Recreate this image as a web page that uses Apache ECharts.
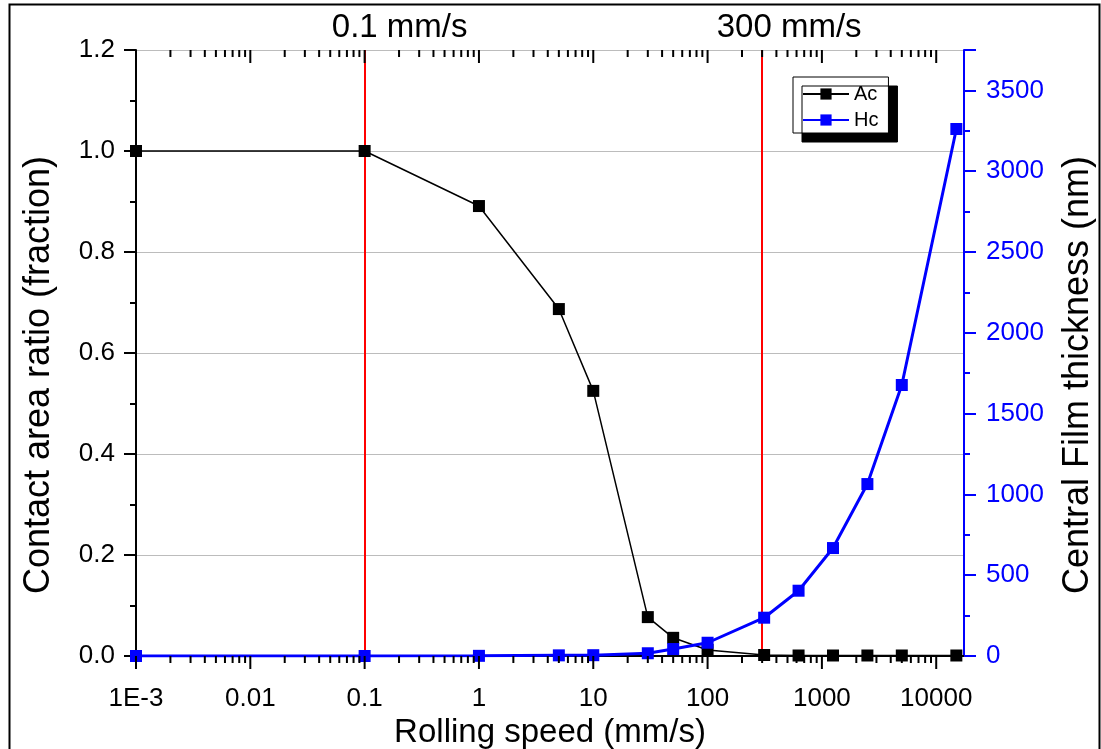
<!DOCTYPE html>
<html>
<head>
<meta charset="utf-8">
<title>Contact area ratio and central film thickness vs rolling speed</title>
<script src="https://cdn.jsdelivr.net/npm/echarts@6/dist/echarts.min.js"></script>
<style>
  html, body { margin: 0; padding: 0; background: #fff; }
  #chart { width: 1101px; height: 749px; }
</style>
</head>
<body>
<div id="chart"></div>
<script>
// Rolling speed (mm/s) of each measurement
const speed = [0.001, 0.1, 1, 5, 10, 30, 50, 100, 312.5, 625, 1250, 2500, 5000, 15000];
// Contact area ratio (fraction)
const acValues = [1.0, 1.0, 0.891, 0.687, 0.525, 0.077, 0.036, 0.012, 0.002, 0.001, 0.001, 0.001, 0.001, 0.001];
// Central film thickness (nm)
const hcValues = [0, 0, 1, 4, 5, 17, 43, 82, 237, 404, 668, 1064, 1677, 3261];

// Reference speeds marked by vertical lines
const markSpeeds = [0.1, 300];
const markLabels = ['0.1 mm/s', '300 mm/s'];
const markLabelShift = [35, 27];

// Decade labels of the logarithmic speed axis, keyed by exponent
const xTickLabels = { '-3': '1E-3', '-2': '0.01', '-1': '0.1', '0': '1', '1': '10', '2': '100', '3': '1000', '4': '10000' };

const X_MIN = 0.001, X_MAX = 17500;
const Y_MIN = 0, Y_MAX = 1.2;

// Major and minor log ticks (flag 1 = decade)
const xTicks = [];
for (let e = -3; e <= 4; e++) {
  for (let k = 1; k <= 9; k++) {
    const v = k * Math.pow(10, e);
    if (v <= X_MAX) xTicks.push([v, k === 1 ? 1 : 0]);
  }
}

const FONT = 'Liberation Sans, Arial, sans-serif';
const chart = echarts.init(document.getElementById('chart'), null, { renderer: 'canvas' });

chart.setOption({
  animation: false,
  backgroundColor: '#fff',
  textStyle: { fontFamily: FONT },
  grid: { left: 136, right: 137, top: 50, bottom: 93, containLabel: false, outerBoundsMode: 'none' },
  legend: {
    data: ['Ac', 'Hc'],
    orient: 'vertical',
    left: 793, top: 77,
    itemWidth: 46, itemHeight: 14, itemGap: 6,
    padding: [7, 10, 3, 9],
    backgroundColor: '#fff',
    borderColor: '#000', borderWidth: 1,
    shadowColor: '#000', shadowOffsetX: 9, shadowOffsetY: 9, shadowBlur: 0,
    textStyle: { fontSize: 20, color: '#000', fontFamily: FONT },
    selectedMode: false
  },
  xAxis: [{
    type: 'log', logBase: 10, min: X_MIN, max: X_MAX, splitNumber: 10,
    position: 'bottom',
    name: 'Rolling speed (mm/s)', nameLocation: 'middle', nameGap: 48,
    nameTextStyle: { fontSize: 33, color: '#000', fontFamily: FONT },
    axisLine: { lineStyle: { color: '#000', width: 2 } },
    axisTick: { show: false },
    splitLine: { show: false },
    axisLabel: {
      fontSize: 26, color: '#000', margin: 30, fontFamily: FONT,
      formatter: function (v) {
        const e = Math.log10(v);
        const r = Math.round(e);
        if (Math.abs(e - r) > 1e-6) return '';
        return xTickLabels[String(r)] || '';
      }
    }
  }, {
    type: 'log', logBase: 10, min: X_MIN, max: X_MAX, position: 'top',
    axisLine: { lineStyle: { color: '#000', width: 2 } },
    axisTick: { show: false }, axisLabel: { show: false }, splitLine: { show: false }
  }],
  yAxis: [{
    type: 'value', min: Y_MIN, max: Y_MAX, interval: 0.2, position: 'left',
    name: 'Contact area ratio (fraction)', nameLocation: 'middle', nameGap: 79, nameRotate: 90,
    nameTextStyle: { fontSize: 36, color: '#000', fontFamily: FONT, padding: [0, 44, 0, 0] },
    axisLine: { show: true, lineStyle: { color: '#000', width: 2 } },
    axisTick: { show: true, length: 12, lineStyle: { color: '#000', width: 2 } },
    minorTick: { show: true, splitNumber: 2, length: 6, lineStyle: { color: '#000', width: 2 } },
    splitLine: { show: true, lineStyle: { color: '#bcbcbc', width: 1 } },
    axisLabel: { fontSize: 26, color: '#000', margin: 21, fontFamily: FONT, formatter: v => v.toFixed(1) }
  }, {
    type: 'value', min: 0, max: 3750, interval: 500, position: 'right',
    name: 'Central Film thickness (nm)', nameLocation: 'middle', nameGap: 96, nameRotate: 90,
    nameTextStyle: { fontSize: 36, color: '#000', fontFamily: FONT, padding: [0, 44, 0, 0] },
    axisLine: { show: true, lineStyle: { color: '#0000ff', width: 2 } },
    axisTick: { show: true, length: 12, lineStyle: { color: '#0000ff', width: 2 } },
    minorTick: { show: true, splitNumber: 2, length: 6, lineStyle: { color: '#0000ff', width: 2 } },
    splitLine: { show: false },
    axisLabel: { fontSize: 26, color: '#0000ff', margin: 22, fontFamily: FONT, formatter: v => (v >= 3750 ? '' : String(v)) }
  }],
  series: [{
    name: 'Ac', type: 'line', xAxisIndex: 0, yAxisIndex: 0, z: 3,
    data: speed.map((s, i) => [s, acValues[i]]),
    symbol: 'rect', symbolSize: 12,
    itemStyle: { color: '#000' },
    lineStyle: { color: '#000', width: 1.5 },
    markLine: {
      z: 1, silent: true, symbol: 'none',
      lineStyle: { color: '#ff0000', width: 2, type: 'solid' },
      label: { show: true, position: 'end', formatter: '{b}', fontSize: 33, color: '#000', distance: 6, fontFamily: FONT },
      data: markSpeeds.map((s, i) => ({ xAxis: s, name: markLabels[i], label: { offset: [markLabelShift[i], 0] } }))
    }
  }, {
    name: 'Hc', type: 'line', xAxisIndex: 0, yAxisIndex: 1, z: 4,
    data: speed.map((s, i) => [s, hcValues[i]]),
    symbol: 'rect', symbolSize: 12,
    itemStyle: { color: '#0000ff' },
    lineStyle: { color: '#0000ff', width: 3 }
  }, {
    // log-axis tick marks along the bottom and top frame
    type: 'custom', xAxisIndex: 0, yAxisIndex: 0, z: 5, silent: true, clip: false,
    data: xTicks,
    encode: { x: 0, y: 1 },
    renderItem: function (params, api) {
      const v = api.value(0);
      const len = api.value(1) === 1 ? 13 : 7;
      const pb = api.coord([v, Y_MIN]);
      const pt = api.coord([v, Y_MAX]);
      const st = { stroke: '#000', lineWidth: 2 };
      return {
        type: 'group',
        children: [
          { type: 'line', shape: { x1: pb[0], y1: pb[1], x2: pb[0], y2: pb[1] + len }, style: st },
          { type: 'line', shape: { x1: pt[0], y1: pt[1], x2: pt[0], y2: pt[1] + len }, style: st }
        ]
      };
    }
  }],
  graphic: [{
    type: 'rect', left: 7, top: 2, silent: true, z: 100,
    shape: { width: 1090, height: 752 },
    style: { fill: 'none', stroke: '#000', lineWidth: 2 }
  }]
});
</script>
</body>
</html>
